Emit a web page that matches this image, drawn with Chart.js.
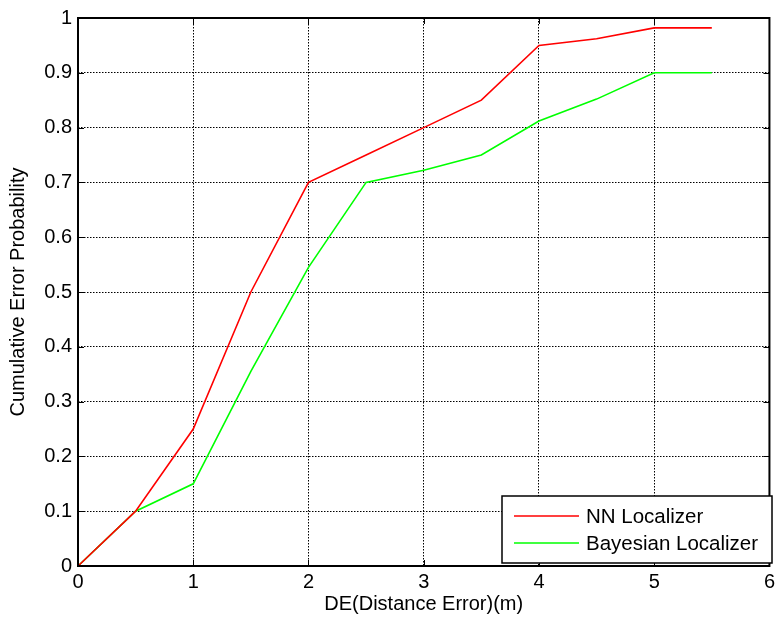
<!DOCTYPE html>
<html><head><meta charset="utf-8">
<script src="https://cdn.jsdelivr.net/npm/chart.js@4.4.1/dist/chart.umd.min.js"></script>
<style>html,body{margin:0;padding:0;background:#fff}#c{display:block}</style>
</head><body>
<canvas id="c" width="779" height="620"></canvas>
<script>
const xValues = [0, 0.5, 1, 1.5, 2, 2.5, 3, 3.5, 4, 4.5, 5, 5.5];
const nnValues = [0, 0.1, 0.25, 0.5, 0.7, 0.75, 0.8, 0.85, 0.95, 0.962, 0.982, 0.982];
const bayesValues = [0, 0.1, 0.15, 0.355, 0.545, 0.70, 0.722, 0.75, 0.812, 0.852, 0.90, 0.90];
const seriesNames = ["NN Localizer", "Bayesian Localizer"];
const seriesColors = ["#ff0000", "#00ff00"];
const xTitle = "DE(Distance Error)(m)";
const yTitle = "Cumulative Error Probability";

const FONT = "'Liberation Sans', Arial, sans-serif";

const framePlugin = {
  id: 'frame',
  afterDraw(chart) {
    const {ctx, chartArea: a} = chart;
    ctx.save();
    ctx.strokeStyle = '#000'; ctx.lineWidth = 1; ctx.setLineDash([]);
    const xs = chart.scales.x, ys = chart.scales.y;
    for (let v = 0; v <= 6; v++) {
      const px = Math.round(xs.getPixelForValue(v)) + 0.5;
      ctx.beginPath(); ctx.moveTo(px, a.bottom); ctx.lineTo(px, a.bottom - 6); ctx.stroke();
      ctx.beginPath(); ctx.moveTo(px, a.top); ctx.lineTo(px, a.top + 6); ctx.stroke();
    }
    for (let i = 0; i <= 10; i++) {
      const py = Math.round(ys.getPixelForValue(i / 10)) + 0.5;
      ctx.beginPath(); ctx.moveTo(a.left, py); ctx.lineTo(a.left + 6, py); ctx.stroke();
      ctx.beginPath(); ctx.moveTo(a.right, py); ctx.lineTo(a.right - 6, py); ctx.stroke();
    }
    ctx.lineWidth = 2;
    ctx.strokeRect(a.left, a.top, a.right - a.left, a.bottom - a.top);
    // legend
    const lx = 502, ly = 496, lw = 270, lh = 67;
    ctx.fillStyle = '#fff';
    ctx.fillRect(lx, ly, lw, lh);
    ctx.lineWidth = 1.5;
    ctx.strokeRect(lx, ly, lw, lh);
    ctx.font = "20.5px " + FONT;
    ctx.textBaseline = 'middle';
    ctx.textAlign = 'left';
    const rows = [ly + 20, ly + 47];
    seriesNames.forEach((n, i) => {
      ctx.strokeStyle = seriesColors[i]; ctx.lineWidth = 1.3;
      ctx.beginPath(); ctx.moveTo(514, rows[i]); ctx.lineTo(579, rows[i]); ctx.stroke();
      ctx.fillStyle = '#000';
      ctx.fillText(n, 586, rows[i] + 1);
    });
    ctx.restore();
  }
};

new Chart(document.getElementById('c'), {
  type: 'line',
  data: {
    datasets: [
      { label: seriesNames[0], data: xValues.map((x, i) => ({x, y: nnValues[i]})),
        borderColor: seriesColors[0], borderWidth: 1.6, pointRadius: 0, tension: 0, fill: false },
      { label: seriesNames[1], data: xValues.map((x, i) => ({x, y: bayesValues[i]})),
        borderColor: seriesColors[1], borderWidth: 1.6, pointRadius: 0, tension: 0, fill: false }
    ]
  },
  options: {
    responsive: false, animation: false, devicePixelRatio: 1,
    layout: { padding: { left: 0, right: 6, top: 18, bottom: 0 } },
    plugins: { legend: { display: false }, tooltip: { enabled: false } },
    scales: {
      x: {
        type: 'linear', min: 0, max: 6,
        afterFit(s) { s.height = 54; },
        ticks: { stepSize: 1, color: '#000', font: { family: FONT, size: 20 }, padding: 4 },
        grid: { color: '#000', lineWidth: 1, drawTicks: false },
        border: { display: false, dash: [1.5, 1.5] },
        title: { display: true, text: xTitle, color: '#000', font: { family: FONT, size: 20 }, padding: { top: 3 } }
      },
      y: {
        type: 'linear', min: 0, max: 1,
        afterFit(s) { s.width = 78; },
        ticks: { stepSize: 0.1, color: '#000', font: { family: FONT, size: 20 }, padding: 6,
          callback: v => { const r = Math.round(v * 10) / 10; return r === 0 ? '0' : r === 1 ? '1' : String(r); } },
        grid: { color: '#000', lineWidth: 1, drawTicks: false },
        border: { display: false, dash: [1.5, 1.5] },
        title: { display: true, text: yTitle, color: '#000', font: { family: FONT, size: 20 }, padding: { top: 6, bottom: 0 } }
      }
    }
  },
  plugins: [framePlugin]
});
</script>
</body></html>
